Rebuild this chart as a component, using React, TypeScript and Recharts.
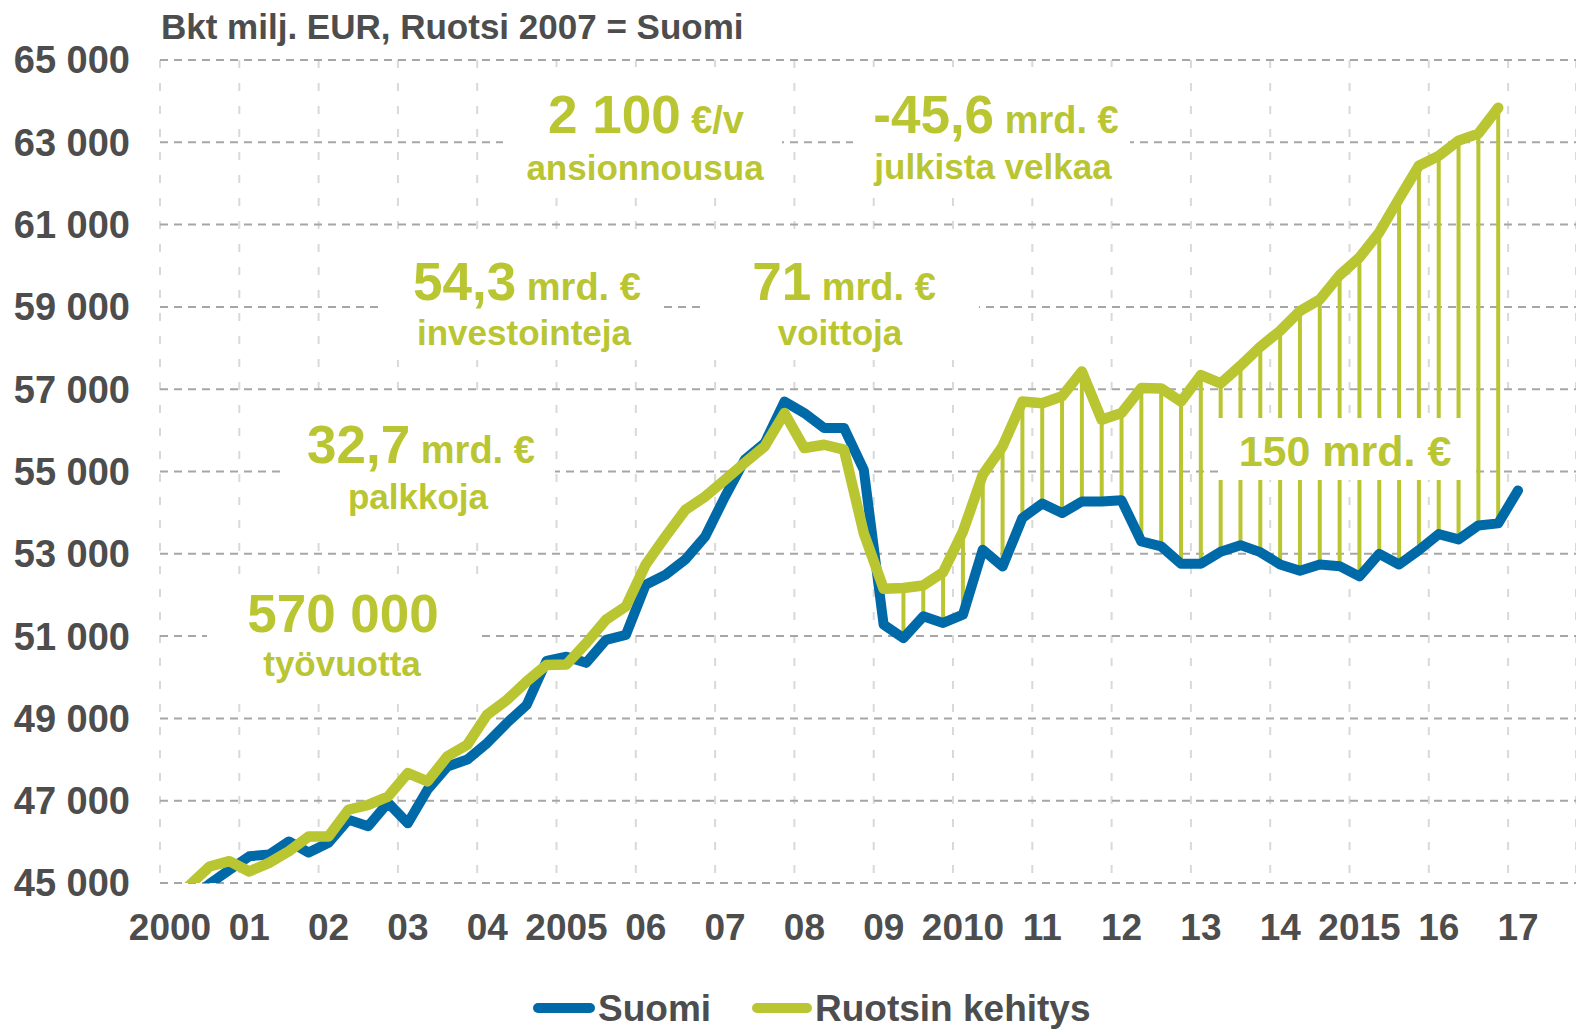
import { LineChart, Line, XAxis, YAxis, CartesianGrid, ReferenceLine } from "recharts";

const GREEN = "#b9c531";
const BLUE = "#006aa8";
const GREY = "#4d4d4d";
const FONT = "'Liberation Sans', Arial, sans-serif";

const title = "Bkt milj. EUR, Ruotsi 2007 = Suomi";
const seriesNames = ["Suomi", "Ruotsin kehitys"];

const yearTicks = [2000, 2001, 2002, 2003, 2004, 2005, 2006, 2007, 2008, 2009, 2010, 2011, 2012, 2013, 2014, 2015, 2016, 2017];
const yearLabels = ["2000", "01", "02", "03", "04", "2005", "06", "07", "08", "09", "2010", "11", "12", "13", "14", "2015", "16", "17"];
const valueTicks = [45000, 47000, 49000, 51000, 53000, 55000, 57000, 59000, 61000, 63000, 65000];

// quarterly, 2000Q1 -> 2017Q1
const suomi = [
  44300, 44600, 44980, 45320,
  45650, 45690, 46010, 45740,
  45980, 46540, 46380, 46950,
  46450, 47270, 47830, 48000,
  48400, 48890, 49330, 50400,
  50500, 50350, 50910, 51030,
  52250, 52490, 52860, 53420,
  54390, 55290, 55690, 56700,
  56420, 56060, 56060, 55040,
  51280, 50950, 51480, 51320,
  51520, 53100, 52690, 53870,
  54220, 53990, 54270, 54270,
  54300, 53300, 53180, 52760,
  52760, 53050, 53210, 53040,
  52740, 52590, 52740, 52700,
  52450, 53000, 52740, 53090,
  53480, 53350, 53690, 53740,
  54540,
];

// quarterly, 2000Q1 -> 2016Q4
const ruotsi = [
  44400, 44950, 45400, 45530,
  45280, 45490, 45770, 46130,
  46130, 46780, 46900, 47100,
  47670, 47470, 48080, 48360,
  49090, 49450, 49900, 50300,
  50310, 50830, 51400, 51720,
  52740, 53420, 54070, 54390,
  54800, 55210, 55610, 56420,
  55570, 55650, 55530, 53500,
  52150, 52170, 52230, 52550,
  53540, 54920, 55610, 56700,
  56660, 56830, 57430, 56260,
  56420, 57030, 57020, 56700,
  57340, 57140, 57570, 58030,
  58420, 58900, 59180, 59770,
  60200, 60810, 61630, 62430,
  62670, 63040, 63210, 63840,
];

// first quarter with a gap line (2009Q2)
const gapFrom = 37;
const gapLabel = "150 mrd. €";

const annValues = ["2 100", "-45,6", "54,3", "71", "32,7", "570 000"];
const annUnits = ["€/v", "mrd. €", "mrd. €", "mrd. €", "mrd. €", ""];
const annLabels = ["ansionnousua", "julkista velkaa", "investointeja", "voittoja", "palkkoja", "työvuotta"];

const annBoxes = [
  { x: 503, y: 67, w: 279, h: 128, c1: 646, b1: 133, c2: 645, b2: 180 },
  { x: 853, y: 67, w: 277, h: 128, c1: 996, b1: 133, c2: 993, b2: 179 },
  { x: 382, y: 237, w: 278, h: 123, c1: 527, b1: 300, c2: 524, b2: 345 },
  { x: 706, y: 237, w: 273, h: 123, c1: 844, b1: 300, c2: 840, b2: 345 },
  { x: 282, y: 403, w: 273, h: 129, c1: 421, b1: 463, c2: 418, b2: 509 },
  { x: 207, y: 577, w: 275, h: 115, c1: 343, b1: 632, c2: 342, b2: 676 },
];

const data = suomi.map((s, i) => ({
  t: 2000 + (i + 0.5) / 4,
  suomi: s,
  ruotsi: ruotsi[i],
}));

const fmtValue = (v: number) => `${v / 1000} 000`;

const XTick = (props: any) => {
  const { x, y, index } = props;
  return (
    <text x={x + 10} y={y} dy={51} textAnchor="middle" fill={GREY} fontSize={37} fontWeight={700} fontFamily={FONT}>
      {yearLabels[index]}
    </text>
  );
};

export default function App() {
  return (
    <div style={{ position: "relative", width: 1576, height: 1031, overflow: "hidden", background: "#fff" }}>
      <style>{"html,body{margin:0;overflow:hidden;}"}</style>
      <LineChart width={1576} height={1031} data={data} margin={{ top: 60, right: 0, bottom: 108, left: 10 }}>
        <CartesianGrid horizontal={false} stroke="#d9d9d9" strokeWidth={2} strokeDasharray="8 15" />
        <CartesianGrid vertical={false} stroke="#a6a6a6" strokeWidth={2} strokeDasharray="8 6" />
        <XAxis
          dataKey="t"
          type="number"
          domain={[2000, 2017.856]}
          ticks={yearTicks}
          axisLine={false}
          tickLine={false}
          tickSize={0}
          tickMargin={6}
          height={40}
          tick={<XTick />}
          interval={0}
        />
        <YAxis
          type="number"
          domain={[45000, 65000]}
          ticks={valueTicks}
          allowDataOverflow
          axisLine={false}
          tickLine={false}
          tickSize={0}
          tickMargin={30}
          width={150}
          interval={0}
          tickFormatter={fmtValue}
          tick={{ fill: GREY, fontSize: 38, fontWeight: 700, fontFamily: FONT }}
        />
        {data.slice(gapFrom, ruotsi.length).map((d) => (
          <ReferenceLine
            key={d.t}
            segment={[{ x: d.t, y: d.suomi }, { x: d.t, y: d.ruotsi }]}
            stroke={GREEN}
            strokeWidth={4}
          />
        ))}
        <Line
          type="linear"
          dataKey="suomi"
          name={seriesNames[0]}
          stroke={BLUE}
          strokeWidth={10}
          strokeLinejoin="round"
          strokeLinecap="round"
          dot={false}
          activeDot={false}
          isAnimationActive={false}
        />
        <Line
          type="linear"
          dataKey="ruotsi"
          name={seriesNames[1]}
          stroke={GREEN}
          strokeWidth={10.5}
          strokeLinejoin="round"
          strokeLinecap="round"
          dot={false}
          activeDot={false}
          isAnimationActive={false}
        />
      </LineChart>

      <svg width={1576} height={1031} style={{ position: "absolute", left: 0, top: 0, pointerEvents: "none" }} fontFamily={FONT} fontWeight={700}>
        <text x={161} y={39} fontSize={35} fill={GREY}>{title}</text>

        {annBoxes.map((b, i) => (
          <g key={annLabels[i]}>
            <rect x={b.x} y={b.y} width={b.w} height={b.h} fill="#fff" />
            <text x={b.c1} y={b.b1} textAnchor="middle" fill={GREEN}>
              <tspan fontSize={53}>{annValues[i]}</tspan>
              {annUnits[i] ? <tspan fontSize={38}>{" " + annUnits[i]}</tspan> : null}
            </text>
            <text x={b.c2} y={b.b2} textAnchor="middle" fill={GREEN} fontSize={35}>{annLabels[i]}</text>
          </g>
        ))}

        <rect x={1218} y={418} width={252} height={62} fill="#fff" />
        <text x={1345} y={466} textAnchor="middle" fill={GREEN} fontSize={43}>{gapLabel}</text>

        <line x1={538} x2={590} y1={1008} y2={1008} stroke={BLUE} strokeWidth={10} strokeLinecap="round" />
        <text x={598} y={1021} fontSize={37} fill={GREY}>{seriesNames[0]}</text>
        <line x1={757} x2={807} y1={1008} y2={1008} stroke={GREEN} strokeWidth={10} strokeLinecap="round" />
        <text x={815} y={1021} fontSize={37} fill={GREY}>{seriesNames[1]}</text>
      </svg>
    </div>
  );
}
